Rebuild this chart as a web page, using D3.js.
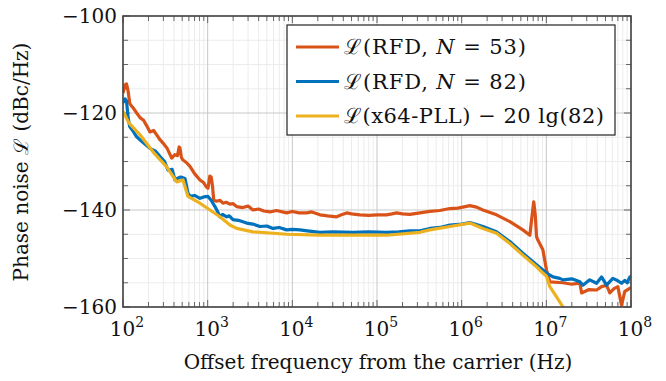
<!DOCTYPE html>
<html><head><meta charset="utf-8">
<script src="https://cdn.jsdelivr.net/npm/d3@7"></script>
<style>
body{margin:0;background:#fff;}
text{font-family:"DejaVu Serif",serif;fill:#111;}
</style></head>
<body><svg id="c" width="666" height="381"></svg>
<script>
const seriesNames = ["\u2112(RFD, N = 53)", "\u2112(RFD, N = 82)", "\u2112(x64-PLL) \u2212 20 lg(82)"];
const seriesColors = ["#D95319", "#0072BD", "#EDB120"];
const xTickExps = [2,3,4,5,6,7,8];
const yTickVals = [-100,-120,-140,-160];

const freqN53 = [100,106,110,115,120,124,135,145,160,175,190,208,230,250,270,297,330,376,410,440,460,471,490,511,560,618,700,811,900,960,1009,1060,1100,1140,1180,1277,1400,1516,1650,1834,2000,2199,2600,3000,3425,4000,4600,5440,6500,8570,10000,12000,14760,17000,21200,26000,33350,38000,43800,50000,62900,80000,100000,129800,150000,170300,200000,244500,321200,421600,550000,726400,900000,1.1e6,1.25e6,1.5e6,1.78e6,2.58e6,3.71e6,5.28e6,6.39e6,6.8e6,7.1e6,7.4e6,7.66e6,7.94e6,9.1e6,1.005e7,1.1e7,1.57e7,2.0e7,2.49e7,2.61e7,3.2e7,3.92e7,4.5e7,5.14e7,5.62e7,6.3e7,6.99e7,7.73e7,8.45e7,1e8];
const pnN53 = [-115.9,-114.2,-114.0,-115.5,-118,-118.4,-119.2,-120,-121,-121.5,-122.6,-123.9,-123.6,-124.5,-125.4,-126.2,-127.2,-129.3,-128.6,-128.8,-127.0,-127.2,-129.2,-129.7,-130.2,-131,-132.5,-133.8,-134.4,-135.2,-135.5,-133.0,-133.2,-135,-138,-138.2,-138.0,-138.6,-138.4,-138.8,-138.7,-139.3,-139.5,-139.2,-140,-139.8,-140.2,-140.4,-140.1,-140.6,-140.3,-140.6,-140.6,-140.4,-141,-141.2,-141.4,-141.0,-140.6,-140.8,-141,-141.1,-141.0,-141,-140.8,-140.6,-140.8,-140.9,-140.6,-140.3,-140.1,-139.7,-139.6,-139.3,-139.1,-139.4,-140,-141,-142.4,-144.1,-145.2,-141,-138.3,-141,-145.5,-146.2,-148.2,-152.4,-154.8,-155,-155.3,-155.1,-157.1,-156.4,-156.5,-155.8,-155.5,-157.1,-156.2,-155.8,-159.6,-156.8,-156];

const freqN82 = [100,106,110,115,120,132,145,170,208,240,274,310,340,380,411,450,480,540,585,618,700,811,900,1009,1100,1219,1300,1396,1500,1676,1800,1989,2400,2886,3400,4143,5000,5900,7000,8570,10000,12300,15000,21200,30000,52000,80000,129800,180000,244500,321200,421600,550000,726400,1e6,1.25e6,1.5e6,1.78e6,2.58e6,3.71e6,5.28e6,7.66e6,1.005e7,1.2e7,1.44e7,1.57e7,2.0e7,2.49e7,2.70e7,3.26e7,3.92e7,4.49e7,5.14e7,6.10e7,7.0e7,7.73e7,8.45e7,9.0e7,9.7e7,1e8];
const pnN82 = [-117.9,-117.1,-117.5,-121,-122.8,-123.8,-124.9,-126.0,-127.3,-127.8,-129,-130.0,-131.8,-131.6,-133.8,-133.4,-133.2,-133.5,-136.5,-137.2,-137.0,-137.6,-137.3,-137.2,-138,-139.3,-140.2,-141.4,-140.9,-141.4,-141.2,-142,-142.2,-142.7,-142.9,-143.4,-143.3,-143.8,-143.6,-144.1,-144.0,-144.1,-144.3,-144.6,-144.5,-144.6,-144.5,-144.6,-144.5,-144.3,-144.3,-143.8,-143.6,-143.1,-142.9,-142.6,-143.0,-143.4,-144.5,-146.5,-148.9,-151.3,-153,-153.8,-154.1,-154.4,-154.2,-154.8,-155.5,-154.4,-155.1,-153.8,-155.5,-154.1,-154.6,-155.1,-154.5,-155.0,-153.8,-153.8];

const freqPLL = [100,118,159,226,328,431,511,585,811,1065,1396,1834,2199,3425,8570,21200,52000,129800,321200,421600,726400,1.25e6,1.78e6,2.58e6,3.71e6,5.28e6,7.66e6,9.1e6,1.0e7,1.1e7,1.32e7,1.6e7];
const pnPLL = [-119.7,-122.1,-124.5,-128,-131.1,-134.2,-133.8,-137.2,-138.6,-140,-141.4,-143.1,-143.8,-144.5,-145,-145.2,-145.2,-145.2,-144.6,-144.1,-143.4,-142.7,-143.8,-144.8,-146.9,-149.3,-151.7,-153.0,-153.6,-155.8,-157.9,-160.2];

const svg = d3.select("#c");
const m = {l:123, r:631, t:16, b:307};
const x = d3.scaleLog().domain([1e2,1e8]).range([m.l,m.r]);
const y = d3.scaleLinear().domain([-160,-100]).range([m.b,m.t]);

// grid
const minorX = [];
for (let e=2;e<8;e++) for (let k=2;k<10;k++) minorX.push(k*Math.pow(10,e));
const majorX = xTickExps.map(e=>Math.pow(10,e));
const minorY = d3.range(-155,-100,5).filter(v=>v%20!==0);
const g = svg.append("g");
g.selectAll(".mgx").data(minorX).join("line").attr("x1",d=>x(d)).attr("x2",d=>x(d)).attr("y1",m.t).attr("y2",m.b).attr("stroke","#ececec").attr("stroke-width",1);
g.selectAll(".mgy").data(minorY).join("line").attr("y1",d=>y(d)).attr("y2",d=>y(d)).attr("x1",m.l).attr("x2",m.r).attr("stroke","#ececec").attr("stroke-width",1);
g.selectAll(".Mgx").data(majorX).join("line").attr("x1",d=>x(d)).attr("x2",d=>x(d)).attr("y1",m.t).attr("y2",m.b).attr("stroke","#c8c8c8").attr("stroke-width",1);
g.selectAll(".Mgy").data(yTickVals).join("line").attr("y1",d=>y(d)).attr("y2",d=>y(d)).attr("x1",m.l).attr("x2",m.r).attr("stroke","#c8c8c8").attr("stroke-width",1);

// ticks (inward) on all four sides
const tk = svg.append("g").attr("stroke","#666").attr("stroke-width",1);
function vt(vals,len){
  vals.forEach(v=>{
    tk.append("line").attr("x1",x(v)).attr("x2",x(v)).attr("y1",m.b).attr("y2",m.b-len);
    tk.append("line").attr("x1",x(v)).attr("x2",x(v)).attr("y1",m.t).attr("y2",m.t+len);
  });
}
function ht(vals,len){
  vals.forEach(v=>{
    tk.append("line").attr("y1",y(v)).attr("y2",y(v)).attr("x1",m.l).attr("x2",m.l+len);
    tk.append("line").attr("y1",y(v)).attr("y2",y(v)).attr("x1",m.r).attr("x2",m.r-len);
  });
}
vt(minorX,5); vt(majorX,7); ht(minorY,5); ht(yTickVals,7);

// lines
svg.append("clipPath").attr("id","pc").append("rect").attr("x",m.l).attr("y",m.t).attr("width",m.r-m.l).attr("height",m.b-m.t);
const line = d3.line().x(d=>x(d[0])).y(d=>y(d[1]));
const data = [d3.zip(freqN53,pnN53), d3.zip(freqN82,pnN82), d3.zip(freqPLL,pnPLL)];
const lg = svg.append("g").attr("clip-path","url(#pc)");
data.forEach((d,i)=>{
  lg.append("path").datum(d).attr("d",line).attr("fill","none").attr("stroke",seriesColors[i]).attr("stroke-width",3.2).attr("stroke-linejoin","round");
});

// frame
svg.append("rect").attr("x",m.l).attr("y",m.t).attr("width",m.r-m.l).attr("height",m.b-m.t).attr("fill","none").attr("stroke","#444").attr("stroke-width",1.6);

// axis labels
const fs = 20;
xTickExps.forEach(e=>{
  const t = svg.append("text").attr("x",x(Math.pow(10,e))+4).attr("y",336).attr("text-anchor","middle").attr("font-size",fs);
  t.append("tspan").text("10");
  t.append("tspan").attr("dy",-9).attr("font-size",14).text(e);
});
yTickVals.forEach(v=>{
  svg.append("text").attr("x",117).attr("y",y(v)+7).attr("text-anchor","end").attr("font-size",fs).text("\u2212"+Math.abs(v));
});
svg.append("text").attr("x",378).attr("y",369).attr("text-anchor","middle").attr("font-size",fs).text("Offset frequency from the carrier (Hz)");
const yt = svg.append("text").attr("transform","translate(28,162) rotate(-90)").attr("text-anchor","middle").attr("font-size",fs);
yt.append("tspan").text("Phase noise ");
yt.append("tspan").text("\u2112");
yt.append("tspan").text(" (dBc/Hz)");

// legend
const lgx = 287, lgy = 25;
svg.append("rect").attr("x",lgx).attr("y",lgy).attr("width",328).attr("height",110).attr("fill","#fff").attr("stroke","#222").attr("stroke-width",1.2);
const legW = [182,182,260];
seriesNames.forEach((n,i)=>{
  const ry = 47 + i*34.5;
  svg.append("line").attr("x1",296).attr("x2",339).attr("y1",ry).attr("y2",ry).attr("stroke",seriesColors[i]).attr("stroke-width",3.2);
  const t = svg.append("text").attr("x",344).attr("y",ry+7).attr("font-size",21)
    .attr("textLength",legW[i]).attr("lengthAdjust","spacing");
  if (i<2) {
    t.append("tspan").text("\u2112(RFD, ");
    t.append("tspan").attr("font-style","italic").text("N");
    t.append("tspan").text(" = " + (i===0?"53":"82") + ")");
  } else {
    t.text(n);
  }
});
</script></body></html>
